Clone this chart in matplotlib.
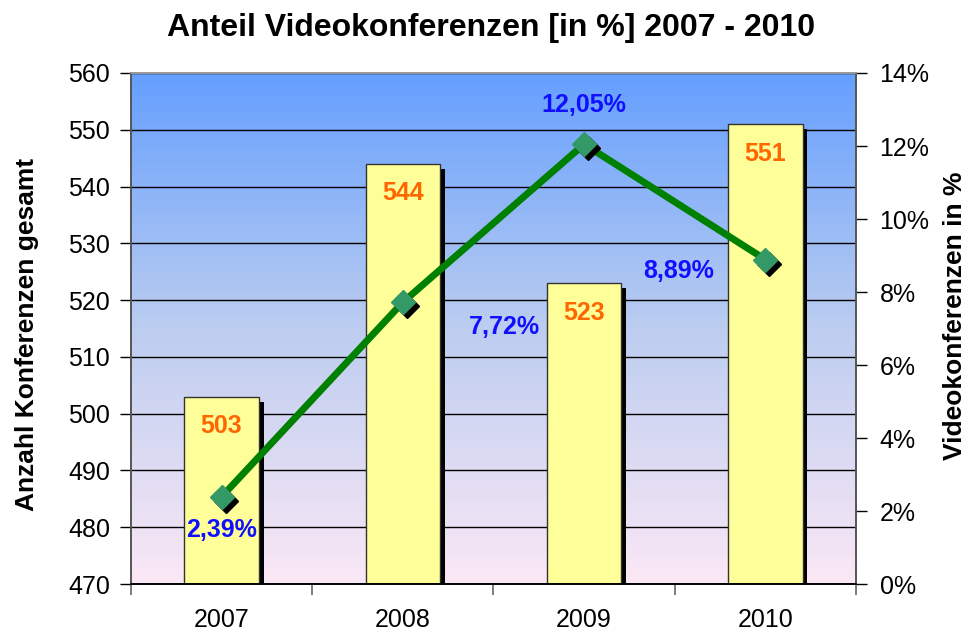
import numpy as np
import matplotlib
matplotlib.use("Agg")
import matplotlib.pyplot as plt
from matplotlib import transforms
from matplotlib.colors import LinearSegmentedColormap
from matplotlib.ticker import MultipleLocator, FuncFormatter
import matplotlib.patheffects as pe

plt.rcParams['font.family'] = ['Liberation Sans', 'DejaVu Sans']

years = ['2007', '2008', '2009', '2010']
conferences = [503, 544, 523, 551]
video_share = [2.39, 7.72, 12.05, 8.89]
share_labels = ['2,39%', '7,72%', '12,05%', '8,89%']

fig = plt.figure(figsize=(9.68, 6.32), dpi=100)
ax = fig.add_axes([0.1353, 0.0759, 0.7490, 0.8086])
ax2 = ax.twinx()

x = np.arange(len(years))

# background gradient
cmap = LinearSegmentedColormap.from_list('bg', ['#FBE8F6', '#BCCDF0', '#649FFF'])
grad = np.linspace(0, 1, 256).reshape(-1, 1)
ax.imshow(grad, cmap=cmap, aspect='auto', origin='lower',
          extent=[0, 1, 0, 1], transform=ax.transAxes, zorder=0)

ax.set_xlim(-0.5, 3.5)
ax.set_ylim(470, 560)
ax.yaxis.set_major_locator(MultipleLocator(10))
ax.set_axisbelow(True)
ax.grid(axis='y', color='black', lw=1)

shadow = [pe.SimplePatchShadow(offset=(3.5, -3.5), shadow_rgbFace='black', alpha=1), pe.Normal()]
bars = ax.bar(x, [c - 470 for c in conferences], bottom=470, width=0.41,
              color='#FFFF99', edgecolor='#333333', lw=1, zorder=2)
for b in bars:
    b.set_path_effects(shadow)

for xi, c in zip(x, conferences):
    ax.text(xi, c - 5.2, str(c), ha='center', va='center', color='#FF6600',
            fontsize=18, fontweight='bold', zorder=3)

ax2.set_ylim(0, 14)
ax2.yaxis.set_major_locator(MultipleLocator(2))
ax2.yaxis.set_major_formatter(FuncFormatter(lambda v, p: f'{v:.0f}%'))

ax2.plot(x, video_share, color='#008000', lw=5, zorder=3)
sh = transforms.offset_copy(ax2.transData, fig=fig, x=4, y=-4, units='dots')
ax2.plot(x, video_share, ls='none', marker='D', ms=12, color='black', transform=sh, zorder=4)
ax2.plot(x, video_share, ls='none', marker='D', ms=12, color='#339966', zorder=5)

# label positions relative to the points (x in categories, y in %)
offsets = [(0, -0.9), (0.56, -0.68), (0, 1.08), (-0.48, -0.31)]
for xi, v, lab, (dx, dy) in zip(x, video_share, share_labels, offsets):
    ax2.text(xi + dx, v + dy, lab, ha='center', va='center', color='#1010FF',
             fontsize=18, fontweight='bold', zorder=6)

# axes styling
ax.set_xticks(x)
ax.set_xticklabels(years)
ax.set_xticks(np.arange(-0.5, 4, 1), minor=True)
ax.tick_params(axis='x', which='major', length=0, pad=17, labelsize=18)
ax.tick_params(axis='x', which='minor', length=8, color='#666666', width=1.2)
ax.tick_params(axis='y', length=8, width=1, labelsize=18, pad=7)
ax2.tick_params(axis='y', length=8, width=1, labelsize=18, pad=9)

for a in (ax, ax2):
    a.spines['top'].set_color('#999999')
    a.spines['left'].set_color('#555555')
    a.spines['right'].set_color('#555555')
    a.spines['bottom'].set_color('black')
    for s in a.spines.values():
        s.set_linewidth(1.2)

fig.text(27 / 968, 1 - 334 / 632, 'Anzahl Konferenzen gesamt', rotation=90,
         ha='center', va='center', fontsize=19, fontweight='bold')
fig.text(955 / 968, 1 - 316 / 632, 'Videokonferenzen in %', rotation=90,
         ha='center', va='center', fontsize=19, fontweight='bold')
fig.text(491 / 968, 1 - 28 / 632, 'Anteil Videokonferenzen [in %] 2007 - 2010',
         ha='center', va='center', fontsize=23, fontweight='bold')

fig.savefig('out.png', dpi=100)
